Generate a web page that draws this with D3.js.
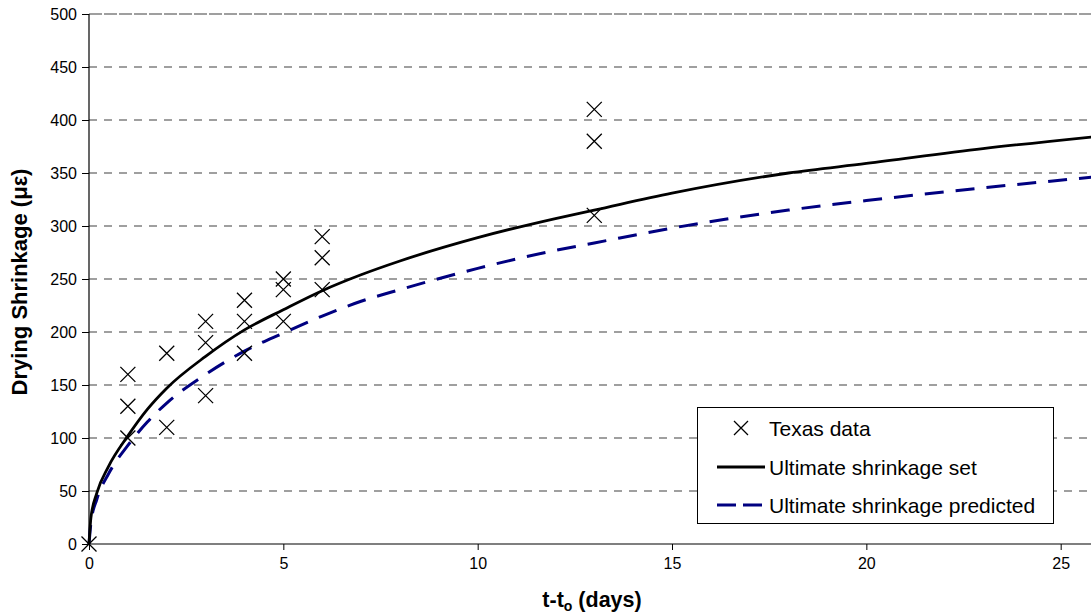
<!DOCTYPE html>
<html>
<head>
<meta charset="utf-8">
<script src="https://cdn.jsdelivr.net/npm/d3@7"></script>
<style>
  html, body { margin: 0; padding: 0; background: #fff; }
  svg { display: block; font-family: "Liberation Sans", Arial, sans-serif; }
</style>
</head>
<body>
<svg id="chart" width="1091" height="615"></svg>
<script>
// ---- data ----
const xTicks = [0, 5, 10, 15, 20, 25];
const yTicks = [0, 50, 100, 150, 200, 250, 300, 350, 400, 450, 500];

const texasT = [0, 1, 1, 1, 2, 2, 3, 3, 3, 4, 4, 4, 5, 5, 5, 6, 6, 6, 13, 13, 13];
const texasS = [0, 160, 130, 100, 180, 110, 210, 190, 140, 230, 210, 180, 250, 240, 210, 290, 270, 240, 410, 380, 310];

const curveT = [0, 0.05, 0.2, 0.5, 1, 1.5, 2, 3, 4, 5, 6, 7, 8, 10, 12, 13, 15, 18, 20, 23, 25.8];
const setS   = [0, 25, 48, 73, 102, 127, 147, 177, 202, 221, 239, 254, 267, 289, 307, 315, 331, 350, 359, 373, 384];
const predS  = [0, 20, 42, 66, 93, 115, 133, 160, 182, 199, 215, 229, 240, 260, 277, 284, 298, 315, 324, 336, 346];

const legendLabels = ["Texas data", "Ultimate shrinkage set", "Ultimate shrinkage predicted"];
const xTitle = "t-t";
const xTitleSub = "o";
const xTitleRest = " (days)";
const yTitle = "Drying Shrinkage (με)";

(function () {
// ---- layout ----
const svg = d3.select("#chart");
const pL = 89, pR = 1091, pT = 14, pB = 544;
const x = d3.scaleLinear().domain([0, 25.78]).range([pL, pR]);
const y = d3.scaleLinear().domain([0, 500]).range([pB, pT]);

// gridlines
svg.append("g").selectAll("line")
  .data(yTicks.filter(d => d > 0))
  .join("line")
  .attr("x1", pL).attr("x2", pR)
  .attr("y1", d => y(d)).attr("y2", d => y(d))
  .attr("stroke", "#808080")
  .attr("stroke-width", d => d === 500 ? 1.6 : 1.3)
  .attr("stroke-dasharray", d => d === 500 ? "13,2" : "8,7");

// axes
const yAxis = d3.axisLeft(y).tickValues(yTicks).tickSize(7).tickPadding(5).tickFormat(d3.format("d"));
const gy = svg.append("g").attr("transform", `translate(${pL},0)`).call(yAxis);
const xAxis = d3.axisBottom(x).tickValues(xTicks).tickSize(6).tickPadding(8).tickFormat(d3.format("d"));
const gx = svg.append("g").attr("transform", `translate(0,${pB})`).call(xAxis);
[gx, gy].forEach(g => {
  g.select(".domain").attr("stroke", "#000").attr("stroke-width", 1.2);
  g.selectAll(".tick line").attr("stroke", "#000");
  g.selectAll(".tick text").attr("font-size", 16).attr("fill", "#000")
    .attr("font-family", "'Liberation Sans', Arial, sans-serif");
});
gy.select(".domain").attr("d", `M0,${pB}V${pT}`);
gx.select(".domain").attr("d", `M${pL},0H${pR}`);

// curves
const line = d3.line().x(d => x(d[0])).y(d => y(d[1])).curve(d3.curveMonotoneX);
svg.append("path")
  .datum(curveT.map((t, i) => [t, predS[i]]))
  .attr("d", line).attr("fill", "none")
  .attr("stroke", "#000080").attr("stroke-width", 3)
  .attr("stroke-dasharray", "19,12");
svg.append("path")
  .datum(curveT.map((t, i) => [t, setS[i]]))
  .attr("d", line).attr("fill", "none")
  .attr("stroke", "#000").attr("stroke-width", 2.8);

// markers
const cross = (g, cx, cy, r) => {
  g.append("path")
    .attr("d", `M${cx - r},${cy - r}L${cx + r},${cy + r}M${cx - r},${cy + r}L${cx + r},${cy - r}`)
    .attr("stroke", "#000").attr("stroke-width", 1.3).attr("fill", "none");
};
const mk = svg.append("g");
texasT.forEach((t, i) => cross(mk, x(t), y(texasS[i]), 7.5));

// legend
const lg = svg.append("g");
lg.append("rect").attr("x", 697.5).attr("y", 407.5).attr("width", 356).attr("height", 116)
  .attr("fill", "#fff").attr("stroke", "#000").attr("stroke-width", 1);
const rowY = [428, 467, 505];
cross(lg, 741, rowY[0], 7);
lg.append("line").attr("x1", 717).attr("x2", 765).attr("y1", rowY[1]).attr("y2", rowY[1])
  .attr("stroke", "#000").attr("stroke-width", 2.8);
lg.append("line").attr("x1", 717).attr("x2", 763).attr("y1", rowY[2]).attr("y2", rowY[2])
  .attr("stroke", "#000080").attr("stroke-width", 3).attr("stroke-dasharray", "19,7");
lg.selectAll("text.lab").data(legendLabels).join("text")
  .attr("x", 769).attr("y", (d, i) => rowY[i]).attr("dy", "0.36em")
  .attr("font-size", 21).attr("fill", "#000").text(d => d);

// axis titles
const xt = svg.append("text").attr("x", 592).attr("y", 607).attr("text-anchor", "middle")
  .attr("font-size", 21.5).attr("font-weight", "bold").attr("fill", "#000");
xt.append("tspan").text(xTitle);
xt.append("tspan").attr("font-size", 14).attr("dy", 4).text(xTitleSub);
xt.append("tspan").attr("dy", -4).text(xTitleRest);

svg.append("text")
  .attr("transform", `translate(27,282) rotate(-90)`)
  .attr("text-anchor", "middle")
  .attr("font-size", 22).attr("font-weight", "bold").attr("fill", "#000")
  .text(yTitle);
})();
</script>
</body>
</html>
